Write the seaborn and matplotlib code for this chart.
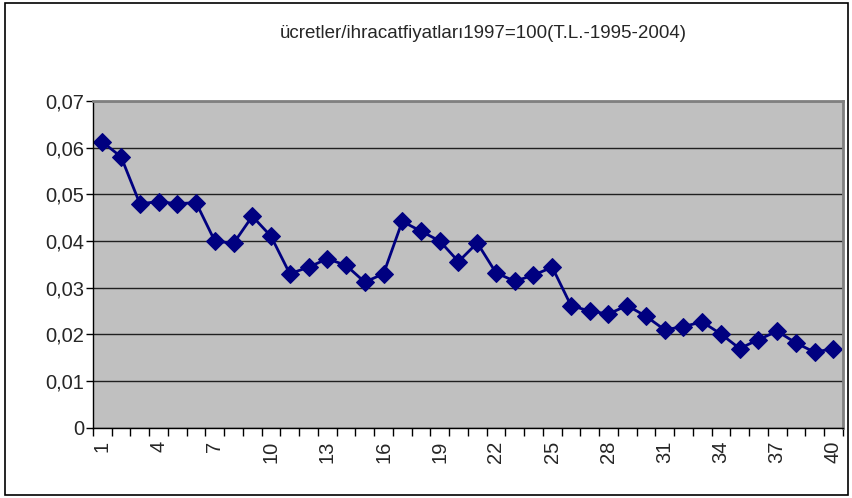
import numpy as np
import pandas as pd
import matplotlib
matplotlib.use("Agg")
import matplotlib.pyplot as plt
from matplotlib.patches import Rectangle
from matplotlib.ticker import FuncFormatter, FixedLocator
import seaborn as sns

# Data
periods = list(range(1, 41))
values = [0.0612, 0.0580, 0.0480, 0.0484, 0.0480, 0.0482, 0.0400, 0.0395, 0.0453, 0.0410,
          0.0330, 0.0344, 0.0362, 0.0348, 0.0312, 0.0330, 0.0442, 0.0421, 0.0400, 0.0356,
          0.0396, 0.0332, 0.0314, 0.0327, 0.0344, 0.0262, 0.0250, 0.0244, 0.0262, 0.0239,
          0.0210, 0.0217, 0.0227, 0.0201, 0.0170, 0.0189, 0.0207, 0.0182, 0.0162, 0.0170]
title = "ücretler/ihracatfiyatları1997=100(T.L.-1995-2004)"

sns.set_style("white")
plt.rcParams['font.family'] = ['Liberation Sans', 'DejaVu Sans']

df = pd.DataFrame({'period': periods, 'value': values})

fig = plt.figure(figsize=(8.53, 4.98), dpi=100)
ax = fig.add_axes([0.109, 0.1406, 0.879, 0.657])
ax.set_facecolor('#C0C0C0')

sns.lineplot(data=df, x='period', y='value', ax=ax, color='#000080', linewidth=2,
             marker='D', markersize=9, markeredgecolor='#000080')

ax.set_xlim(0.5, 40.5)
ax.set_ylim(0, 0.07)
ax.set_yticks(np.arange(0, 0.0701, 0.01))
ax.yaxis.set_major_formatter(FuncFormatter(lambda v, p: '0' if abs(v) < 1e-9 else f'{v:.2f}'.replace('.', ',')))
ax.grid(axis='y', color='#202020', linewidth=1)
ax.set_axisbelow(True)

# labels every third category, tick marks at category boundaries
ax.set_xticks(periods[::3])
ax.set_xticklabels([str(p) for p in periods[::3]], rotation=90)
ax.tick_params(axis='x', which='major', length=0, labelsize=14.5, pad=9)
ax.xaxis.set_minor_locator(FixedLocator(np.arange(0.5, 41, 1)))
ax.tick_params(axis='x', which='minor', length=6, width=1, color='black', direction='out', bottom=True)
ax.tick_params(axis='y', length=5, width=1, color='black', direction='out', labelsize=14.5, left=True, pad=1.5)

for side in ['top', 'right']:
    ax.spines[side].set_color('#808080')
    ax.spines[side].set_linewidth(2)
for side in ['left', 'bottom']:
    ax.spines[side].set_color('black')
    ax.spines[side].set_linewidth(1)

ax.set_xlabel('')
ax.set_ylabel('')

fig.text(0.566, 0.932, title, ha='center', va='center', fontsize=13.5)

fig.patches.append(Rectangle((0.006, 0.006), 0.988, 0.988, transform=fig.transFigure,
                             fill=False, edgecolor='black', linewidth=1.2))

fig.savefig('out.png', dpi=100)
